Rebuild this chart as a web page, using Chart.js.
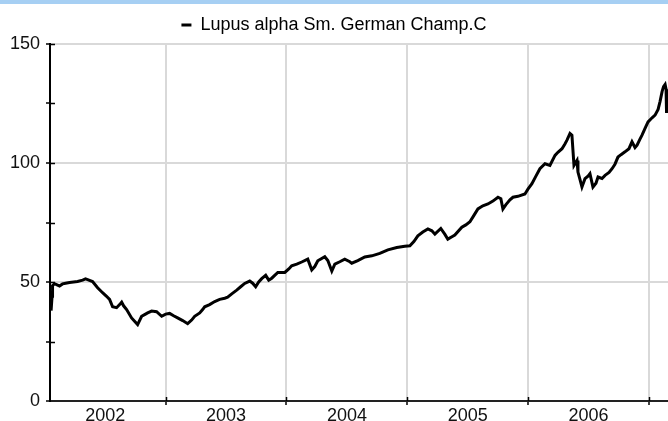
<!DOCTYPE html>
<html>
<head>
<meta charset="utf-8">
<script src="https://cdn.jsdelivr.net/npm/chart.js@4/dist/chart.umd.min.js"></script>
<style>
    body { margin: 0; background: #fff; }
    #band { height: 4px; background: #a6cff3; width: 668px; }
</style>
</head>
<body>
<div id="band"></div>
<canvas id="fundChart" width="668" height="417"></canvas>
<script>
const seriesLabel = 'Lupus alpha Sm. German Champ.C'

// decimal years
const dates = [
    2002.048, 2002.052, 2002.060, 2002.064, 2002.081, 2002.106, 2002.122, 2002.147, 2002.172, 2002.205,
    2002.238, 2002.271, 2002.313, 2002.337, 2002.354, 2002.395, 2002.437, 2002.478, 2002.511, 2002.536,
    2002.561, 2002.594, 2002.619, 2002.636, 2002.652, 2002.677, 2002.718, 2002.743, 2002.768, 2002.801,
    2002.826, 2002.851, 2002.884, 2002.925, 2002.967, 2003.000, 2003.033, 2003.066, 2003.099, 2003.141,
    2003.182, 2003.215, 2003.240, 2003.282, 2003.306, 2003.323, 2003.364, 2003.406, 2003.447, 2003.489,
    2003.513, 2003.547, 2003.588, 2003.621, 2003.654, 2003.696, 2003.720, 2003.745, 2003.770, 2003.795,
    2003.828, 2003.853, 2003.878, 2003.928, 2003.986, 2004.019, 2004.043, 2004.085, 2004.126, 2004.176,
    2004.209, 2004.234, 2004.259, 2004.317, 2004.342, 2004.375, 2004.400, 2004.441, 2004.482, 2004.524,
    2004.540, 2004.590, 2004.648, 2004.706, 2004.772, 2004.839, 2004.913, 2004.979, 2005.021, 2005.054,
    2005.087, 2005.128, 2005.170, 2005.203, 2005.228, 2005.277, 2005.311, 2005.335, 2005.369, 2005.393,
    2005.451, 2005.484, 2005.518, 2005.551, 2005.584, 2005.625, 2005.667, 2005.708, 2005.750, 2005.774,
    2005.791, 2005.816, 2005.849, 2005.874, 2005.915, 2005.973, 2005.998, 2006.031, 2006.064, 2006.097,
    2006.139, 2006.180, 2006.222, 2006.246, 2006.280, 2006.304, 2006.321, 2006.346, 2006.362, 2006.379,
    2006.404, 2006.412, 2006.429, 2006.445, 2006.470, 2006.495, 2006.511, 2006.536, 2006.561, 2006.578,
    2006.611, 2006.636, 2006.669, 2006.694, 2006.718, 2006.743, 2006.768, 2006.801, 2006.834, 2006.859,
    2006.884, 2006.901, 2006.925, 2006.942, 2006.967, 2006.992, 2007.025, 2007.050, 2007.075, 2007.091,
    2007.108, 2007.120, 2007.133, 2007.141, 2007.145
]

const prices = [
    46, 38, 44, 48.5, 49.3, 48.7, 48.3, 49.2, 49.5, 49.8,
    50.0, 50.2, 50.8, 51.3, 51.0, 50.2, 47.6, 45.5, 44.0, 42.7,
    39.6, 39.2, 40.5, 41.5, 40.0, 38.4, 34.9, 33.5, 32.1, 35.6,
    36.3, 37.0, 37.8, 37.5, 35.6, 36.5, 36.8, 35.8, 34.9, 33.8,
    32.5, 34.0, 35.6, 37.0, 38.4, 39.6, 40.5, 41.8, 42.7, 43.2,
    43.6, 45.0, 46.6, 48.0, 49.4, 50.4, 49.5, 48.0, 50.0, 51.4,
    52.8, 50.8, 51.6, 54.0, 54.0, 55.5, 56.8, 57.5, 58.4, 59.6,
    55.1, 56.5, 58.9, 60.6, 59.0, 54.6, 57.5, 58.5, 59.6, 58.5,
    57.9, 59.0, 60.5, 61.0, 62.0, 63.5, 64.5, 65.0, 65.2, 67.0,
    69.4, 71.0, 72.3, 71.5, 70.1, 72.5, 70.0, 68.0, 69.0, 69.7,
    73.0, 74.0, 75.3, 78.0, 80.7, 82.0, 82.8, 84.0, 85.6, 85.0,
    80.7, 82.5, 84.5, 85.6, 86.0, 87.0, 89.0, 91.3, 94.5, 97.6,
    99.7, 99.0, 103.2, 104.5, 106.0, 108.0, 109.6, 112.4, 111.7, 99.0,
    101.1, 96.2, 93.0, 89.9, 93.4, 94.5, 95.5, 89.9, 91.5, 94.1,
    93.5, 94.8, 96.0, 97.6, 99.5, 102.5, 103.5, 104.7, 106.0, 108.9,
    106.5, 107.5, 110.0, 111.7, 114.5, 117.3, 119.0, 120.1, 122.5, 125.8,
    130.0, 132.1, 133.0, 131.0, 121.0
]

const yearLabels = ['2002', '2003', '2004', '2005', '2006']
const yearStarts = [2003, 2004, 2005, 2006, 2007]
const xMin = 2002.043
const xMax = 2007.157

const font = { family: "'Liberation Sans', Arial, sans-serif", size: 18 }
const gridColor = '#d9d9d9'

// tick marks that go through the axis line into the plot
const innerTicks = {
    id: 'innerTicks',
    afterDraw(chart) {
        const ctx = chart.ctx
        const area = chart.chartArea
        const y = chart.scales.y
        const x = chart.scales.x
        ctx.save()
        ctx.strokeStyle = '#000'
        ctx.lineWidth = 1.5
        ctx.beginPath()
        for (const t of y.ticks) {
            if (t.value === 0) continue
            const py = Math.round(y.getPixelForValue(t.value)) + 0.5
            ctx.moveTo(area.left, py)
            ctx.lineTo(area.left + 5, py)
        }
        for (const v of yearStarts) {
            const px = Math.round(x.getPixelForValue(v)) + 0.5
            ctx.moveTo(px, area.bottom)
            ctx.lineTo(px, area.bottom - 4)
        }
        ctx.stroke()
        ctx.restore()
    }
}

window.onload = () => {
    const ctx = document.getElementById('fundChart').getContext('2d')
    new Chart(ctx, {
        type: 'line',
        data: {
            datasets: [{
                label: seriesLabel,
                data: dates.map((d, i) => ({ x: d, y: prices[i] })),
                borderColor: '#000',
                backgroundColor: '#000',
                borderWidth: 3,
                borderJoinStyle: 'miter',
                pointRadius: 0,
                tension: 0
            }]
        },
        options: {
            responsive: false,
            animation: false,
            devicePixelRatio: 1,
            layout: { padding: { top: 0, right: 0, left: 0, bottom: 0 } },
            plugins: {
                tooltip: { enabled: false },
                legend: {
                    position: 'top',
                    labels: {
                        font: font,
                        color: '#111',
                        boxWidth: 10,
                        boxHeight: 3,
                        padding: 12,
                        generateLabels: () => [{
                            text: seriesLabel,
                            fillStyle: '#000',
                            strokeStyle: '#000',
                            lineWidth: 0,
                            hidden: false,
                            datasetIndex: 0
                        }]
                    }
                }
            },
            scales: {
                x: {
                    type: 'linear',
                    min: xMin,
                    max: xMax,
                    afterFit: s => { s.height = 20 },
                    afterBuildTicks: s => {
                        let ticks = []
                        yearLabels.forEach((l, i) => {
                            ticks.push({ value: yearStarts[i] - 0.5 })
                            ticks.push({ value: yearStarts[i] })
                        })
                        s.ticks = ticks
                    },
                    border: { color: '#222', width: 2 },
                    grid: {
                        color: c => Number.isInteger(c.tick.value) ? gridColor : 'rgba(0,0,0,0)',
                        tickColor: c => Number.isInteger(c.tick.value) ? '#000' : 'rgba(0,0,0,0)',
                        lineWidth: 2,
                        tickLength: 4,
                        tickWidth: 1.5
                    },
                    ticks: {
                        autoSkip: false,
                        maxRotation: 0,
                        padding: 0,
                        font: font,
                        color: '#111',
                        callback: v => {
                            const i = yearStarts.indexOf(v + 0.5)
                            return i >= 0 ? yearLabels[i] : ''
                        }
                    }
                },
                y: {
                    min: 0,
                    max: 150,
                    afterFit: s => { s.width = 50 },
                    border: { color: '#000', width: 2 },
                    grid: {
                        color: c => (c.tick.value % 50 === 0 && c.tick.value !== 0) ? gridColor : 'rgba(0,0,0,0)',
                        tickColor: '#000',
                        lineWidth: 2,
                        tickLength: 4,
                        tickWidth: 1.5
                    },
                    ticks: {
                        stepSize: 25,
                        padding: 6,
                        font: font,
                        color: '#111',
                        callback: v => v % 50 === 0 ? v : ''
                    }
                }
            }
        },
        plugins: [innerTicks]
    })
}
</script>
</body>
</html>
